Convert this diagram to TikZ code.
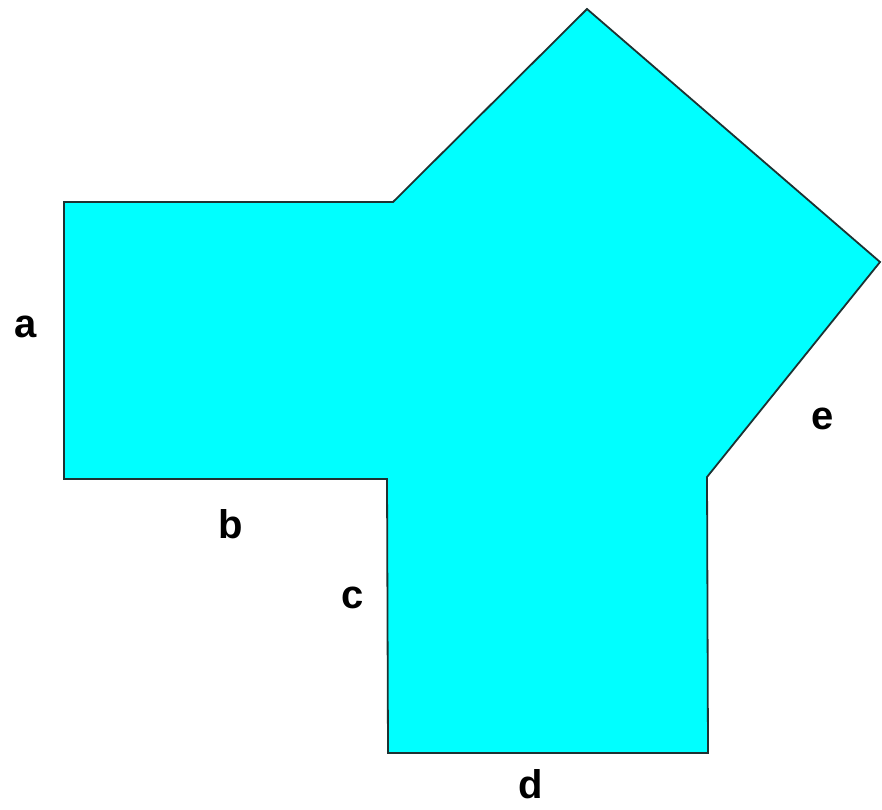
\documentclass[tikz,border=0pt]{standalone}
\usepackage{fontspec}
\setmainfont{Liberation Sans}
\definecolor{aqua}{RGB}{0,255,255}
\definecolor{edge}{RGB}{30,50,50}
\begin{document}
\begin{tikzpicture}[x=1pt,y=-1pt,
  lbl/.style={font=\fontsize{40}{48}\selectfont\bfseries, anchor=base, inner sep=0pt},
  polyfill/.style={fill=aqua, draw=edge, line width=1.8pt, line join=miter}]
\useasboundingbox (0,0) rectangle (882,809);
\draw[polyfill] (64,202) -- (393,202) -- (587,9) -- (880,262) -- (707,477)
  -- (708,753) -- (388,753) -- (387,479) -- (64,479) -- cycle;
\node[lbl] (la) at (26,337) {a};
\node[lbl] (lb) at (231,538) {b};
\node[lbl] (lc) at (353,608) {c};
\node[lbl] (ld) at (531,798) {d};
\node[lbl] (le) at (823,429) {e};
\end{tikzpicture}
\end{document}
